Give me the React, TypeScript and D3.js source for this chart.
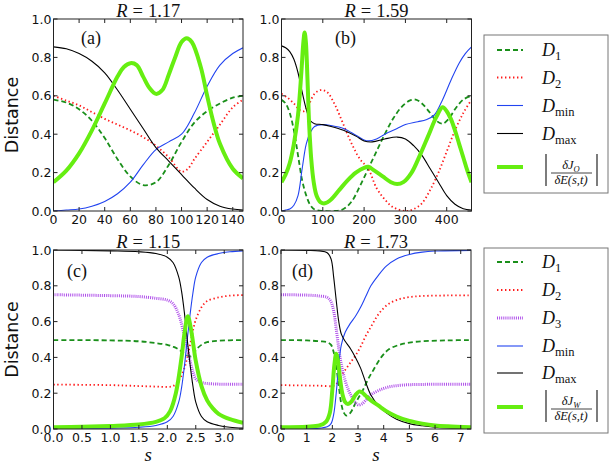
import React from "react";
import * as d3 from "d3";

type P = [number, number];

// ---------- Panel (a): R = 1.17 ----------
const aD1: P[] = [[0,0.58],[10,0.565],[20,0.53],[30,0.47],[40,0.38],[50,0.27],[60,0.18],[70,0.135],[80,0.15],[90,0.24],[100,0.36],[110,0.46],[120,0.52],[130,0.56],[140,0.59],[148,0.6]];
const aD2: P[] = [[0,0.6],[10,0.575],[20,0.55],[30,0.515],[40,0.48],[50,0.45],[60,0.42],[70,0.385],[80,0.34],[90,0.28],[100,0.205],[105,0.22],[110,0.27],[120,0.36],[130,0.45],[140,0.54],[148,0.58]];
const aDmin: P[] = [[0,0],[10,0.005],[20,0.01],[30,0.025],[40,0.05],[50,0.09],[60,0.15],[70,0.24],[80,0.32],[90,0.36],[100,0.4],[110,0.51],[120,0.65],[130,0.76],[140,0.82],[148,0.85]];
const aDmax: P[] = [[0,0.855],[10,0.845],[20,0.82],[30,0.78],[40,0.72],[50,0.63],[60,0.53],[70,0.43],[80,0.33],[90,0.26],[100,0.19],[110,0.12],[120,0.06],[130,0.025],[140,0.01],[148,0.005]];
const aJ: P[] = [[0,0.15],[10,0.21],[20,0.3],[30,0.42],[40,0.56],[50,0.7],[55,0.75],[60,0.77],[65,0.76],[70,0.7],[75,0.64],[80,0.61],[85,0.63],[90,0.71],[95,0.8],[100,0.88],[104,0.9],[108,0.88],[115,0.75],[120,0.6],[125,0.46],[130,0.35],[140,0.22],[148,0.17]];

// ---------- Panel (b): R = 1.59 ----------
const bD1: P[] = [[0,0.58],[10,0.56],[20,0.51],[30,0.42],[40,0.29],[50,0.16],[60,0.08],[70,0.03],[80,0.008],[100,0],[130,0],[150,0.01],[170,0.05],[190,0.13],[210,0.22],[230,0.31],[250,0.4],[270,0.48],[290,0.54],[310,0.575],[325,0.58],[340,0.56],[360,0.51],[375,0.47],[390,0.455],[405,0.48],[420,0.53],[440,0.58],[460,0.6]];
const bD2: P[] = [[0,0.61],[15,0.59],[30,0.56],[45,0.525],[55,0.52],[65,0.55],[80,0.61],[95,0.63],[110,0.62],[130,0.55],[150,0.45],[170,0.35],[190,0.27],[210,0.22],[230,0.12],[250,0.06],[270,0.02],[300,0],[320,0.01],[340,0.04],[360,0.11],[380,0.2],[400,0.31],[420,0.42],[440,0.51],[460,0.58]];
const bDmin: P[] = [[0,0],[10,0.005],[20,0.01],[30,0.03],[40,0.08],[50,0.22],[60,0.35],[70,0.41],[80,0.44],[100,0.45],[120,0.445],[150,0.43],[180,0.395],[200,0.37],[210,0.365],[230,0.375],[250,0.4],[280,0.43],[300,0.45],[330,0.465],[350,0.475],[370,0.5],[390,0.58],[410,0.68],[430,0.77],[445,0.82],[460,0.855]];
const bDmax: P[] = [[0,0.86],[10,0.85],[20,0.83],[30,0.79],[40,0.72],[50,0.62],[60,0.53],[70,0.47],[80,0.455],[100,0.45],[120,0.44],[150,0.42],[180,0.39],[200,0.365],[220,0.36],[250,0.375],[280,0.385],[300,0.375],[320,0.34],[340,0.29],[360,0.22],[380,0.15],[400,0.08],[420,0.035],[440,0.012],[460,0.005]];
const bJ: P[] = [[0,0.15],[10,0.19],[20,0.25],[30,0.35],[40,0.5],[48,0.72],[53,0.88],[56,0.93],[59,0.88],[63,0.68],[67,0.45],[72,0.27],[78,0.15],[85,0.08],[95,0.045],[105,0.04],[120,0.06],[140,0.11],[160,0.16],[180,0.2],[200,0.225],[210,0.23],[225,0.21],[245,0.18],[265,0.15],[280,0.14],[295,0.15],[315,0.2],[335,0.29],[355,0.39],[375,0.49],[390,0.54],[400,0.52],[410,0.48],[420,0.42],[430,0.35],[440,0.28],[450,0.21],[460,0.15]];

// ---------- Panel (c): R = 1.15 ----------
const cD1: P[] = [[0,0.497],[1,0.495],[1.5,0.49],[1.8,0.48],[2,0.47],[2.1,0.46],[2.2,0.445],[2.3,0.42],[2.4,0.405],[2.45,0.41],[2.5,0.44],[2.6,0.47],[2.7,0.485],[2.9,0.493],[3.33,0.497]];
const cD2: P[] = [[0,0.248],[1,0.245],[1.5,0.24],[1.8,0.237],[2,0.235],[2.1,0.24],[2.2,0.27],[2.3,0.34],[2.35,0.4],[2.4,0.47],[2.45,0.55],[2.5,0.61],[2.6,0.68],[2.7,0.715],[2.9,0.735],[3.1,0.745],[3.33,0.748]];
const cD3: P[] = [[0,0.75],[1,0.745],[1.5,0.74],[1.8,0.73],[2,0.72],[2.1,0.7],[2.2,0.64],[2.3,0.52],[2.35,0.45],[2.4,0.38],[2.45,0.32],[2.5,0.28],[2.6,0.26],[2.8,0.252],[3.33,0.25]];
const cDmin: P[] = [[0,0],[1,0.005],[1.5,0.01],[1.8,0.02],[2,0.04],[2.1,0.07],[2.2,0.15],[2.25,0.23],[2.3,0.35],[2.35,0.5],[2.4,0.64],[2.45,0.76],[2.5,0.85],[2.6,0.93],[2.7,0.96],[2.9,0.98],[3.1,0.99],[3.33,0.995]];
const cDmax: P[] = [[0,1],[0.5,0.998],[1,0.995],[1.5,0.99],[1.8,0.98],[2,0.96],[2.1,0.93],[2.2,0.85],[2.25,0.77],[2.3,0.65],[2.35,0.5],[2.4,0.36],[2.45,0.24],[2.5,0.15],[2.6,0.07],[2.7,0.04],[2.9,0.02],[3.1,0.01],[3.33,0.005]];
const cJ: P[] = [[0,0.01],[0.5,0.012],[1,0.017],[1.5,0.025],[1.8,0.04],[1.95,0.06],[2.05,0.1],[2.15,0.2],[2.25,0.4],[2.3,0.53],[2.36,0.63],[2.42,0.55],[2.5,0.38],[2.6,0.24],[2.7,0.16],[2.8,0.115],[2.9,0.085],[3.1,0.055],[3.33,0.035]];

// ---------- Panel (d): R = 1.73 ----------
const dD1: P[] = [[0,0.497],[1,0.495],[1.5,0.49],[1.8,0.485],[1.95,0.47],[2.05,0.43],[2.15,0.35],[2.25,0.24],[2.35,0.14],[2.45,0.09],[2.55,0.075],[2.7,0.09],[2.85,0.13],[3,0.17],[3.2,0.22],[3.4,0.28],[3.6,0.33],[3.9,0.4],[4.2,0.445],[4.6,0.47],[5,0.483],[5.5,0.49],[6.5,0.495],[7.4,0.497]];
const dD2: P[] = [[0,0.245],[1,0.243],[1.5,0.242],[2,0.24],[2.15,0.25],[2.3,0.29],[2.5,0.33],[2.7,0.37],[2.9,0.41],[3.1,0.46],[3.3,0.52],[3.5,0.57],[3.7,0.62],[3.9,0.66],[4.2,0.7],[4.6,0.725],[5,0.737],[5.5,0.743],[6.5,0.746],[7.4,0.747]];
const dD3: P[] = [[0,0.75],[1,0.748],[1.5,0.743],[1.8,0.735],[1.95,0.71],[2.05,0.66],[2.15,0.56],[2.25,0.45],[2.35,0.36],[2.5,0.27],[2.65,0.21],[2.8,0.17],[3,0.135],[3.15,0.14],[3.3,0.16],[3.5,0.19],[3.8,0.215],[4.2,0.235],[4.7,0.245],[5.5,0.249],[7.4,0.25]];
const dDmin: P[] = [[0,0],[1,0.002],[1.5,0.005],[1.8,0.012],[1.95,0.03],[2.05,0.08],[2.15,0.2],[2.25,0.36],[2.35,0.47],[2.5,0.54],[2.7,0.59],[2.9,0.63],[3.1,0.68],[3.3,0.74],[3.5,0.8],[3.8,0.86],[4.1,0.91],[4.5,0.95],[5,0.975],[5.5,0.988],[6,0.994],[7.4,0.998]];
const dDmax: P[] = [[0,1],[1,0.998],[1.5,0.995],[1.8,0.985],[1.95,0.95],[2.05,0.85],[2.15,0.72],[2.25,0.6],[2.35,0.53],[2.5,0.49],[2.7,0.45],[2.9,0.4],[3.1,0.34],[3.3,0.26],[3.5,0.19],[3.8,0.13],[4.1,0.09],[4.5,0.055],[5,0.03],[5.5,0.018],[6,0.01],[6.5,0.006],[7.4,0.003]];
const dJ: P[] = [[0,0.01],[1,0.013],[1.5,0.02],[1.75,0.04],[1.9,0.09],[2,0.22],[2.08,0.36],[2.15,0.42],[2.22,0.38],[2.3,0.28],[2.4,0.19],[2.5,0.15],[2.6,0.14],[2.75,0.155],[2.9,0.19],[3.05,0.21],[3.15,0.205],[3.3,0.185],[3.5,0.16],[3.8,0.13],[4.1,0.1],[4.5,0.07],[5,0.045],[5.5,0.03],[6,0.02],[6.5,0.015],[7.4,0.01]];

// ---------- Ticks / labels ----------
const yTicks = [0, 0.2, 0.4, 0.6, 0.8, 1.0];
const aXTicks = [0, 20, 40, 60, 80, 100, 120, 140];
const bXTicks = [0, 100, 200, 300, 400];
const cXTicks = [0, 0.5, 1.0, 1.5, 2.0, 2.5, 3.0];
const dXTicks = [0, 1, 2, 3, 4, 5, 6, 7];
const titles = ["1.17", "1.59", "1.15", "1.73"];
const panelTags = ["(a)", "(b)", "(c)", "(d)"];

// ---------- Styles ----------
const STY: Record<string, any> = {
  D1: { stroke: "#1a8f1a", w: 1.8, dash: "5,3" },
  D2: { stroke: "#ff1a1a", w: 1.8, dash: "1.4,2.6" },
  D3: { stroke: "#b050ea", w: 3, dash: "1,1.1" },
  Dmin: { stroke: "#2244f0", w: 1.1, dash: null },
  Dmax: { stroke: "#000000", w: 1.1, dash: null },
  J: { stroke: "#66ee11", w: 4, dash: null },
};

const TICKF = "DejaVu Sans, sans-serif";
const SERIF = "Liberation Serif, Times New Roman, serif";

type PanelCfg = {
  id: string;
  x0: number; x1: number; y0: number; y1: number;
  xmax: number; xticks: number[]; fmt: (v: number) => string;
  series: [string, P[]][];
  title: string; tag: string; tagX: number; tagY: number;
  ylabel: boolean; xlabel: boolean;
};

function Panel({ c }: { c: PanelCfg }) {
  const xs = d3.scaleLinear().domain([0, c.xmax]).range([c.x0, c.x1]);
  const ys = d3.scaleLinear().domain([0, 1]).range([c.y1, c.y0]);
  const line = d3.line<P>().x(d => xs(d[0])).y(d => ys(d[1])).curve(d3.curveCatmullRom.alpha(0.5));
  const cx = (c.x0 + c.x1) / 2;
  const tl = 4;
  return (
    <g>
      <defs>
        <clipPath id={"clip" + c.id}>
          <rect x={c.x0} y={c.y0} width={c.x1 - c.x0} height={c.y1 - c.y0} />
        </clipPath>
      </defs>
      <g clipPath={`url(#clip${c.id})`}>
        {c.series.map(([k, data]) => (
          <path key={k} d={line(data) || ""} fill="none" stroke={STY[k].stroke}
            strokeWidth={STY[k].w} strokeDasharray={STY[k].dash || undefined} strokeLinejoin="round" />
        ))}
      </g>
      <rect x={c.x0} y={c.y0} width={c.x1 - c.x0} height={c.y1 - c.y0} fill="none" stroke="#222" strokeWidth={1} />
      {yTicks.map(t => (
        <g key={"y" + t}>
          <line x1={c.x0} x2={c.x0 + tl} y1={ys(t)} y2={ys(t)} stroke="#222" />
          <line x1={c.x1} x2={c.x1 - tl} y1={ys(t)} y2={ys(t)} stroke="#222" />
          <text x={c.x0 - 2} y={ys(t) + 4.5} textAnchor="end" fontFamily={TICKF} fontSize={12.5} fill="#111">{t.toFixed(1)}</text>
        </g>
      ))}
      {c.xticks.map(t => (
        <g key={"x" + t}>
          <line x1={xs(t)} x2={xs(t)} y1={c.y1} y2={c.y1 - tl} stroke="#222" />
          <line x1={xs(t)} x2={xs(t)} y1={c.y0} y2={c.y0 + tl} stroke="#222" />
          <text x={xs(t)} y={c.y1 + 13} textAnchor="middle" fontFamily={TICKF} fontSize={12.5} fill="#111">{c.fmt(t)}</text>
        </g>
      ))}
      <text x={cx} y={c.y0 - 2.5} textAnchor="middle" fontFamily={SERIF} fontSize={18.5} fill="#111">
        <tspan fontStyle="italic">R</tspan>
        <tspan dx={5}>=</tspan>
        <tspan dx={5}>{c.title}</tspan>
      </text>
      <text x={c.tagX} y={c.tagY} fontFamily={SERIF} fontSize={18} fill="#111">{c.tag}</text>
      {c.ylabel && (
        <text transform={`translate(18,${(c.y0 + c.y1) / 2}) rotate(-90)`} textAnchor="middle"
          fontFamily={TICKF} fontSize={17.5} fill="#111">Distance</text>
      )}
      {c.xlabel && (
        <text x={cx} y={461} textAnchor="middle" fontFamily={SERIF} fontStyle="italic" fontSize={19} fill="#111">s</text>
      )}
    </g>
  );
}

function LegendSample({ k, y }: { k: string; y: number }) {
  return <line x1={497} x2={523} y1={y} y2={y} stroke={STY[k].stroke} strokeWidth={STY[k].w}
    strokeDasharray={STY[k].dash || undefined} />;
}

function DLabel({ y, sub }: { y: number; sub: string }) {
  return (
    <text x={542} y={y + 6} fontFamily={SERIF} fontSize={18} fill="#111">
      <tspan fontStyle="italic">D</tspan>
      <tspan dy={4} fontSize={12.5}>{sub}</tspan>
    </text>
  );
}

function Frac({ yLine, J }: { yLine: number; J: string }) {
  return (
    <g fill="#111" fontFamily={SERIF}>
      <line x1={546} x2={546} y1={yLine - 19} y2={yLine + 13} stroke="#111" strokeWidth={1.1} />
      <line x1={597} x2={597} y1={yLine - 19} y2={yLine + 13} stroke="#111" strokeWidth={1.1} />
      <text x={571} y={yLine - 4} textAnchor="middle" fontSize={12.5}>
        <tspan fontStyle="italic">δJ</tspan>
        <tspan dy={2.5} fontSize={8.5} fontStyle="italic">{J}</tspan>
      </text>
      <line x1={551} x2={592} y1={yLine} y2={yLine} stroke="#111" strokeWidth={0.8} />
      <text x={571} y={yLine + 10.5} textAnchor="middle" fontSize={12.5} fontStyle="italic">δE(s,t)</text>
    </g>
  );
}

function Legend1() {
  const ys = [50, 77.5, 105.5, 133.5];
  const keys = ["D1", "D2", "Dmin", "Dmax"];
  const subs = ["1", "2", "min", "max"];
  return (
    <g>
      <rect x={484} y={35} width={124} height={158} fill="white" stroke="#777" strokeWidth={1} />
      {keys.map((k, i) => (
        <g key={k}>
          <LegendSample k={k} y={ys[i]} />
          <DLabel y={ys[i]} sub={subs[i]} />
        </g>
      ))}
      <LegendSample k="J" y={167} />
      <Frac yLine={173} J="O" />
    </g>
  );
}

function Legend2() {
  const ys = [262, 290, 318, 346, 373];
  const keys = ["D1", "D2", "D3", "Dmin", "Dmax"];
  const subs = ["1", "2", "3", "min", "max"];
  return (
    <g>
      <rect x={484} y={248} width={124} height={185} fill="white" stroke="#777" strokeWidth={1} />
      {keys.map((k, i) => (
        <g key={k}>
          <LegendSample k={k} y={ys[i]} />
          <DLabel y={ys[i]} sub={subs[i]} />
        </g>
      ))}
      <LegendSample k="J" y={407} />
      <Frac yLine={409} J="W" />
    </g>
  );
}

const int = (v: number) => String(v);
const one = (v: number) => v.toFixed(1);

const panels: PanelCfg[] = [
  { id: "a", x0: 53.5, x1: 243, y0: 19, y1: 211, xmax: 148, xticks: aXTicks, fmt: int,
    series: [["D1", aD1], ["D2", aD2], ["Dmin", aDmin], ["Dmax", aDmax], ["J", aJ]],
    title: titles[0], tag: panelTags[0], tagX: 81, tagY: 44, ylabel: true, xlabel: false },
  { id: "b", x0: 281.5, x1: 471.5, y0: 19, y1: 211, xmax: 460, xticks: bXTicks, fmt: int,
    series: [["D1", bD1], ["D2", bD2], ["Dmin", bDmin], ["Dmax", bDmax], ["J", bJ]],
    title: titles[1], tag: panelTags[1], tagX: 335, tagY: 44, ylabel: false, xlabel: false },
  { id: "c", x0: 53.5, x1: 243, y0: 250, y1: 429, xmax: 3.33, xticks: cXTicks, fmt: one,
    series: [["D1", cD1], ["D2", cD2], ["D3", cD3], ["Dmin", cDmin], ["Dmax", cDmax], ["J", cJ]],
    title: titles[2], tag: panelTags[2], tagX: 67, tagY: 277, ylabel: true, xlabel: true },
  { id: "d", x0: 281, x1: 471, y0: 250, y1: 429, xmax: 7.4, xticks: dXTicks, fmt: int,
    series: [["D1", dD1], ["D2", dD2], ["D3", dD3], ["Dmin", dDmin], ["Dmax", dDmax], ["J", dJ]],
    title: titles[3], tag: panelTags[3], tagX: 292, tagY: 277, ylabel: false, xlabel: true },
];

export default function App() {
  return (
    <svg width={612} height={465} viewBox="0 0 612 465"
      style={{ position: "absolute", left: 0, top: 0, background: "white" }}>
      <rect x={0} y={0} width={612} height={465} fill="white" />
      {panels.map(p => <Panel key={p.id} c={p} />)}
      <Legend1 />
      <Legend2 />
    </svg>
  );
}
